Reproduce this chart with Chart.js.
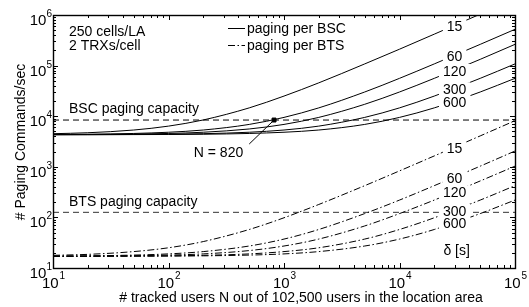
<!DOCTYPE html>
<html>
<head>
<meta charset="utf-8">
<script src="https://cdn.jsdelivr.net/npm/chart.js@4/dist/chart.umd.min.js"></script>
<style>
  html, body { margin: 0; padding: 0; background: #fff; }
  #wrap { width: 529px; height: 307px; }
</style>
</head>
<body>
<div id="wrap"><canvas id="chart"></canvas></div>
<script>
// tracked users N (x axis)
const usersN = [10, 20, 50, 100, 200, 500, 1000, 2000, 5000, 10000, 20000, 50000, 100000];
const deltaLabels = ['15', '60', '120', '300', '600'];

// paging commands/sec per BSC, one array per delta
const bsc15  = [4510, 4710, 5330, 6370, 8430, 14600, 25000, 45600, 108000, 211000, 418000, 1040000, 2070000];
const bsc60  = [4350, 4400, 4560, 4820, 5330, 6880, 9470, 14600, 30100, 56000, 108000, 263000, 521000];
const bsc120 = [4330, 4350, 4430, 4560, 4820, 5590, 6880, 9470, 17200, 30100, 56000, 133000, 263000];
const bsc300 = [4310, 4320, 4350, 4400, 4510, 4820, 5330, 6370, 9470, 14600, 25000, 56000, 108000];
const bsc600 = [4300, 4310, 4330, 4350, 4400, 4560, 4820, 5330, 6880, 9470, 14600, 30100, 56000];

// paging commands/sec per BTS
const bts15  = [17.8, 18.6, 21.1, 25.1, 33.3, 57.7, 98.3, 180, 424, 830, 1640, 4080, 8150];
const bts60  = [17.2, 17.4, 18.0, 19.0, 21.1, 27.2, 37.3, 57.7, 119, 220, 424, 1030, 2050];
const bts120 = [17.1, 17.2, 17.5, 18.0, 19.0, 22.1, 27.2, 37.3, 67.8, 119, 220, 525, 1030];
const bts300 = [17.0, 17.1, 17.2, 17.4, 17.8, 19.0, 21.1, 25.1, 37.3, 57.7, 98.3, 220, 424];
const bts600 = [17.0, 17.0, 17.1, 17.2, 17.4, 18.0, 19.0, 21.1, 27.2, 37.3, 57.7, 119, 220];

const bscCapacity = 8400;
const btsCapacity = 126;
const markN = 820;
const leaderEnd = { x: 500, y: 2820 };
const labelN = 30000;     // where the delta labels sit on the curves
const deltaUnitY = 22;    // "δ [s]" label height
const xDecades = [1, 2, 3, 4, 5];
const yDecades = [1, 2, 3, 4, 5, 6];

const FONT = '"Liberation Sans", Arial, Helvetica, sans-serif';
const dashDot = [7, 2.5, 1.5, 2.5];
const pts = ys => usersN.map((n, i) => ({ x: n, y: ys[i] }));

const curve = (data, dash) => ({
    data: pts(data), borderColor: '#000', borderWidth: 1, borderDash: dash,
    pointRadius: 0, fill: false, cubicInterpolationMode: 'monotone'
});
const bscSets = [bsc15, bsc60, bsc120, bsc300, bsc600].map(d => curve(d, []));
const btsSets = [bts15, bts60, bts120, bts300, bts600].map(d => curve(d, dashDot));

function valueAt(data, n) {
    for (let i = 1; i < data.length; i++) {
        if (data[i].x >= n) {
            const a = data[i - 1], b = data[i];
            const t = (Math.log(n) - Math.log(a.x)) / (Math.log(b.x) - Math.log(a.x));
            return Math.exp(Math.log(a.y) + t * (Math.log(b.y) - Math.log(a.y)));
        }
    }
    return data[data.length - 1].y;
}

const decor = {
    id: 'decor',
    afterDatasetsDraw(chart) {
        const { ctx, chartArea: a, scales: { x, y } } = chart;
        ctx.save();
        ctx.fillStyle = '#000';
        ctx.strokeStyle = '#000';
        ctx.font = '14px ' + FONT;

        // delta labels on curves, white box breaks the line
        const lx = x.getPixelForValue(labelN);
        ctx.textAlign = 'center';
        ctx.textBaseline = 'middle';
        [...bscSets, ...btsSets].forEach((ds, i) => {
            const txt = deltaLabels[i % 5];
            const ly = y.getPixelForValue(valueAt(ds.data, labelN)) + 1;
            const w = ctx.measureText(txt).width + 8;
            ctx.fillStyle = '#fff';
            ctx.fillRect(lx - w / 2, ly - 7, w, 14);
            ctx.fillStyle = '#000';
            ctx.fillText(txt, lx, ly + 1);
        });
        ctx.fillText('δ [s]', lx + 2, y.getPixelForValue(deltaUnitY));

        // text annotations
        ctx.textAlign = 'left';
        ctx.textBaseline = 'alphabetic';
        ctx.fillText('250 cells/LA', a.left + 16, a.top + 21);
        ctx.fillText('2 TRXs/cell', a.left + 16, a.top + 35);
        ctx.fillText('BSC paging capacity', a.left + 16, y.getPixelForValue(bscCapacity) - 7);
        ctx.fillText('BTS paging capacity', a.left + 16, y.getPixelForValue(btsCapacity) - 6);
        ctx.textAlign = 'right';
        ctx.fillText('N = 820', x.getPixelForValue(leaderEnd.x) - 6, y.getPixelForValue(leaderEnd.y) + 13);

        // legend
        ctx.lineWidth = 1;
        ctx.beginPath(); ctx.moveTo(228, 28.5); ctx.lineTo(245, 28.5); ctx.stroke();
        ctx.setLineDash(dashDot);
        ctx.beginPath(); ctx.moveTo(228, 45.5); ctx.lineTo(245, 45.5); ctx.stroke();
        ctx.setLineDash([]);
        ctx.textAlign = 'left';
        ctx.fillText('paging per BSC', 247, 33);
        ctx.fillText('paging per BTS', 247, 50);

        // frame with inward ticks
        ctx.lineWidth = 1.4;
        ctx.strokeRect(a.left + 0.5, a.top + 0.5, a.right - a.left, a.bottom - a.top);
        ctx.lineWidth = 1;
        ctx.beginPath();
        xDecades.forEach((d, i) => {
            for (let m = 1; m <= 9; m++) {
                if (m > 1 && i === xDecades.length - 1) break;
                const px = Math.round(x.getPixelForValue(m * Math.pow(10, d))) + 0.5;
                const len = m === 1 ? 5 : 3;
                ctx.moveTo(px, a.bottom); ctx.lineTo(px, a.bottom - len);
                ctx.moveTo(px, a.top); ctx.lineTo(px, a.top + len);
            }
        });
        yDecades.forEach((d, i) => {
            for (let m = 1; m <= 9; m++) {
                if (m > 1 && i === yDecades.length - 1) break;
                const py = Math.round(y.getPixelForValue(m * Math.pow(10, d))) + 0.5;
                const len = m === 1 ? 5 : 3;
                ctx.moveTo(a.left, py); ctx.lineTo(a.left + len, py);
                ctx.moveTo(a.right, py); ctx.lineTo(a.right - len, py);
            }
        });
        ctx.stroke();

        // tick labels 10^n
        const big = '15px ' + FONT, small = '10px ' + FONT;
        yDecades.forEach(d => {
            const py = y.getPixelForValue(Math.pow(10, d));
            ctx.font = small;
            const sw = ctx.measureText(String(d)).width;
            ctx.textAlign = 'right';
            ctx.fillText(String(d), a.left - 1, py + 2);
            ctx.font = big;
            ctx.fillText('10', a.left - 1 - sw, py + 10);
        });
        xDecades.forEach(d => {
            const px = x.getPixelForValue(Math.pow(10, d));
            ctx.font = big;
            const bw = ctx.measureText('10').width;
            ctx.font = small;
            const sw = ctx.measureText(String(d)).width;
            const x0 = px - (bw + sw) / 2;
            ctx.textAlign = 'left';
            ctx.fillText(String(d), x0 + bw + 1, a.bottom + 11);
            ctx.font = big;
            ctx.fillText('10', x0, a.bottom + 20);
        });

        // axis titles
        ctx.font = '14px ' + FONT;
        ctx.textAlign = 'center';
        ctx.fillText('# tracked users N out of 102,500 users in the location area', 301, a.bottom + 34);
        ctx.translate(25, 142);
        ctx.rotate(-Math.PI / 2);
        ctx.fillText('# Paging Commands/sec', 0, 0);
        ctx.restore();
    }
};

new Chart(document.getElementById('chart'), {
    type: 'line',
    data: {
        datasets: [
            ...bscSets,
            ...btsSets,
            { data: [{ x: 10, y: bscCapacity }, { x: 100000, y: bscCapacity }], borderColor: '#000', borderWidth: 1, borderDash: [6, 4], pointRadius: 0 },
            { data: [{ x: 10, y: btsCapacity }, { x: 100000, y: btsCapacity }], borderColor: '#333', borderWidth: 1, borderDash: [6, 4], pointRadius: 0 },
            { data: [{ x: markN, y: bscCapacity }, leaderEnd], borderColor: '#000', borderWidth: 1, pointRadius: 0 },
            { type: 'scatter', data: [{ x: markN, y: bscCapacity }], backgroundColor: '#000', borderColor: '#000', pointStyle: 'rect', pointRadius: 2.8 }
        ]
    },
    options: {
        responsive: true, maintainAspectRatio: false, animation: false,
        layout: { padding: { left: 53, right: 14, top: 15, bottom: 39 } },
        plugins: { legend: { display: false }, tooltip: { enabled: false } },
        scales: {
            x: { type: 'logarithmic', min: 10, max: 100000, display: false },
            y: { type: 'logarithmic', min: 10, max: 1000000, display: false }
        }
    },
    plugins: [decor]
});
</script>
</body>
</html>
